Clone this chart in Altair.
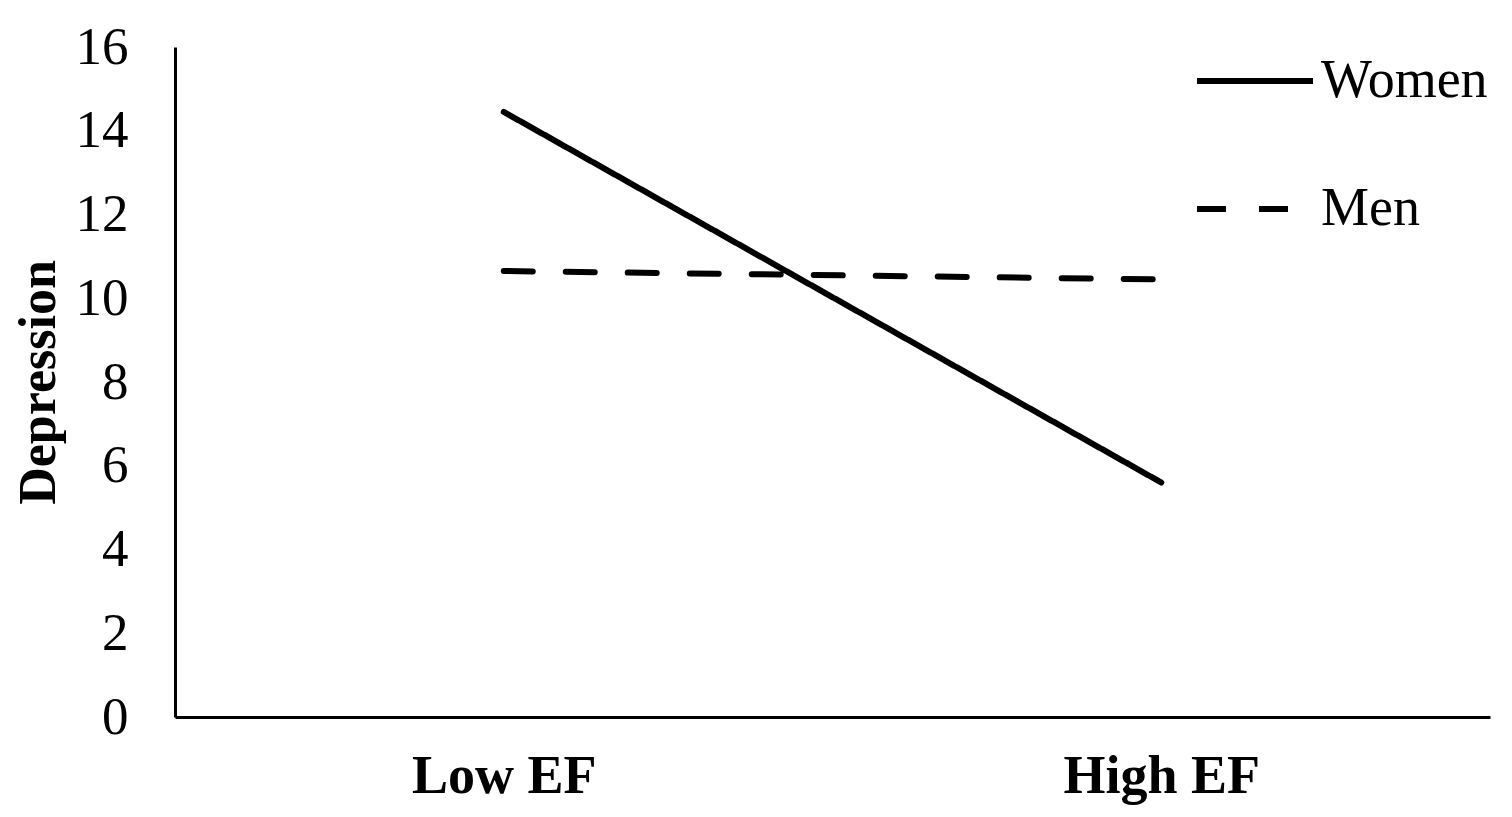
import altair as alt
import pandas as pd

categories = ["Low EF", "High EF"]
groups = ["Women", "Men"]
women_values = [14.45, 5.6]
men_values = [10.65, 10.45]
y_ticks = [0, 2, 4, 6, 8, 10, 12, 14, 16]

rows = []
for c, v in zip(categories, women_values):
    rows.append({"ef": c, "group": "Women", "depression": v})
for c, v in zip(categories, men_values):
    rows.append({"ef": c, "group": "Men", "depression": v})
df = pd.DataFrame(rows)

FONT = "Liberation Serif"

chart = (
    alt.Chart(df)
    .mark_line(color="black", strokeWidth=6, strokeCap="round")
    .encode(
        x=alt.X(
            "ef:N",
            sort=categories,
            scale=alt.Scale(type="point", padding=0.5),
            axis=alt.Axis(
                title=None,
                labelAngle=0,
                ticks=False,
                grid=False,
                domainColor="black",
                domainWidth=3,
                labelFont=FONT,
                labelFontSize=54,
                labelFontWeight="bold",
                labelColor="black",
                labelPadding=32,
                labelLimit=0,
            ),
        ),
        y=alt.Y(
            "depression:Q",
            scale=alt.Scale(domain=[0, 16], nice=False),
            axis=alt.Axis(
                title="Depression",
                values=y_ticks,
                ticks=False,
                grid=False,
                domainColor="black",
                domainWidth=3,
                labelFont=FONT,
                labelFontSize=53,
                labelColor="black",
                labelPadding=47,
                labelLimit=0,
                titleFont=FONT,
                titleFontSize=52,
                titleFontWeight="bold",
                titleColor="black",
                titlePadding=10,
            ),
        ),
        strokeDash=alt.StrokeDash(
            "group:N",
            scale=alt.Scale(domain=groups, range=[[1, 0], [29, 33]]),
            legend=alt.Legend(
                title=None,
                orient="none",
                legendX=1019,
                legendY=-27,
                symbolType="stroke",
                symbolSize=13456,
                symbolStrokeWidth=6,
                symbolStrokeColor="black",
                labelFont=FONT,
                labelFontSize=54,
                labelColor="black",
                labelOffset=5,
                labelLimit=400,
                rowPadding=40,
            ),
        ),
        detail="group:N",
    )
    .properties(
        width=1315,
        height=670,
        autosize=alt.AutoSizeParams(type="none"),
        padding={"left": 167, "top": 39, "right": 14, "bottom": 92},
    )
    .configure_view(stroke=None)
)

chart.save("out.html", embed_options={"renderer": "svg", "actions": False})
